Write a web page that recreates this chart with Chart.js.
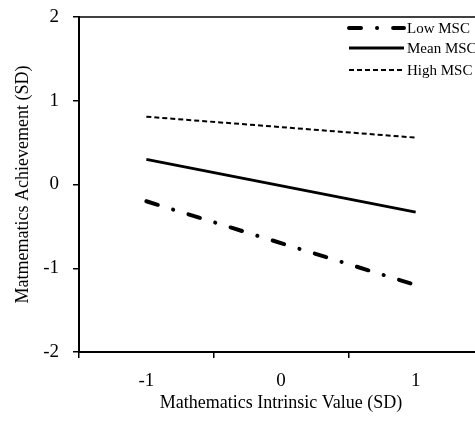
<!doctype html>
<html>
<head>
	<meta charset="utf-8">
	<title>MSC interaction</title>
	<style>
		html, body { margin: 0; padding: 0; overflow: hidden; background: #fff; }
		#chart-area { display: block; }
	</style>
</head>
<body>
	<canvas id="chart-area" width="485" height="425"></canvas>
	<script src="https://cdn.jsdelivr.net/npm/chart.js@4/dist/chart.umd.min.js"></script>
	<script>
	var categories = ['-1', '0', '1'];
	var lineEnds = ['-1', '1'];
	var lowMSC = [-0.2, -1.2];
	var meanMSC = [0.30, -0.33];
	var highMSC = [0.81, 0.56];
	var yTicks = [-2, -1, 0, 1, 2];
	var serif = '"Liberation Serif", "Times New Roman", serif';

	var toPoints = function(values) {
		return values.map(function(v, i) {
			return { x: lineEnds[i], y: v };
		});
	};

	var styles = {
		low: { width: 4, dash: [12, 16, 0.1, 16], cap: 'round' },
		mean: { width: 3, dash: [], cap: 'butt' },
		high: { width: 2, dash: [5, 3], cap: 'butt' }
	};

	// top frame line + legend inside the plot, top right
	var legendBox = {
		id: 'legendBox',
		afterDraw: function(chart) {
			var ctx = chart.ctx;
			var a = chart.chartArea;
			ctx.save();
			ctx.strokeStyle = '#000';
			ctx.lineWidth = 1.5;
			ctx.beginPath();
			ctx.moveTo(a.left, a.top);
			ctx.lineTo(a.right, a.top);
			ctx.stroke();

			var rows = [
				{ label: 'Low MSC', s: styles.low, y: 28 },
				{ label: 'Mean MSC', s: styles.mean, y: 48 },
				{ label: 'High MSC', s: styles.high, y: 70 }
			];
			ctx.font = '15px ' + serif;
			ctx.fillStyle = '#000';
			ctx.textBaseline = 'middle';
			rows.forEach(function(r) {
				ctx.lineWidth = r.s.width;
				ctx.lineCap = r.s.cap;
				ctx.setLineDash(r.s.dash);
				ctx.beginPath();
				ctx.moveTo(349, r.y);
				ctx.lineTo(404, r.y);
				ctx.stroke();
				ctx.setLineDash([]);
				ctx.fillText(r.label, 407, r.y + 1);
			});
			ctx.restore();
		}
	};

	var mkSet = function(label, values, s) {
		return {
			label: label,
			data: toPoints(values),
			borderColor: '#000',
			borderWidth: s.width,
			borderDash: s.dash,
			borderCapStyle: s.cap,
			pointRadius: 0,
			fill: false,
			tension: 0
		};
	};

	var config = {
		type: 'line',
		data: {
			labels: categories,
			datasets: [
				mkSet('Low MSC', lowMSC, styles.low),
				mkSet('Mean MSC', meanMSC, styles.mean),
				mkSet('High MSC', highMSC, styles.high)
			]
		},
		plugins: [legendBox],
		options: {
			responsive: false,
			animation: false,
			devicePixelRatio: 1,
			layout: { padding: { left: 0, right: 2, top: 17, bottom: 0 } },
			plugins: {
				legend: { display: false },
				tooltip: { enabled: false }
			},
			scales: {
				x: {
					type: 'category',
					offset: true,
					afterFit: function(s) { s.height = 73; s.paddingLeft = 0; s.paddingRight = 0; },
					grid: { offset: true, drawOnChartArea: false, drawTicks: true, tickLength: 6, color: '#000', lineWidth: 1.5 },
					border: { display: true, color: '#000', width: 2 },
					ticks: { color: '#000', font: { family: serif, size: 19 }, padding: 12, maxRotation: 0 },
					title: { display: true, text: 'Mathematics Intrinsic Value (SD)', color: '#000', font: { family: serif, size: 18 }, padding: { top: 0, bottom: 11 } }
				},
				y: {
					min: -2,
					max: 2,
					afterFit: function(s) { s.width = 79; s.paddingTop = 0; s.paddingBottom = 0; },
					afterBuildTicks: function(s) {
						s.ticks = yTicks.map(function(v) { return { value: v }; });
					},
					grid: { drawOnChartArea: false, drawTicks: true, tickLength: 6, color: '#000', lineWidth: 1.5 },
					border: { display: true, color: '#000', width: 2 },
					ticks: { color: '#000', font: { family: serif, size: 19 }, padding: 14 },
					title: { display: true, text: 'Matmematics Achievement (SD)', color: '#000', font: { family: serif, size: 18 }, padding: { top: 12, bottom: 0 } }
				}
			}
		}
	};

	window.onload = function() {
		var ctx = document.getElementById('chart-area').getContext('2d');
		window.myLine = new Chart(ctx, config);
	};
	</script>
</body>
</html>
